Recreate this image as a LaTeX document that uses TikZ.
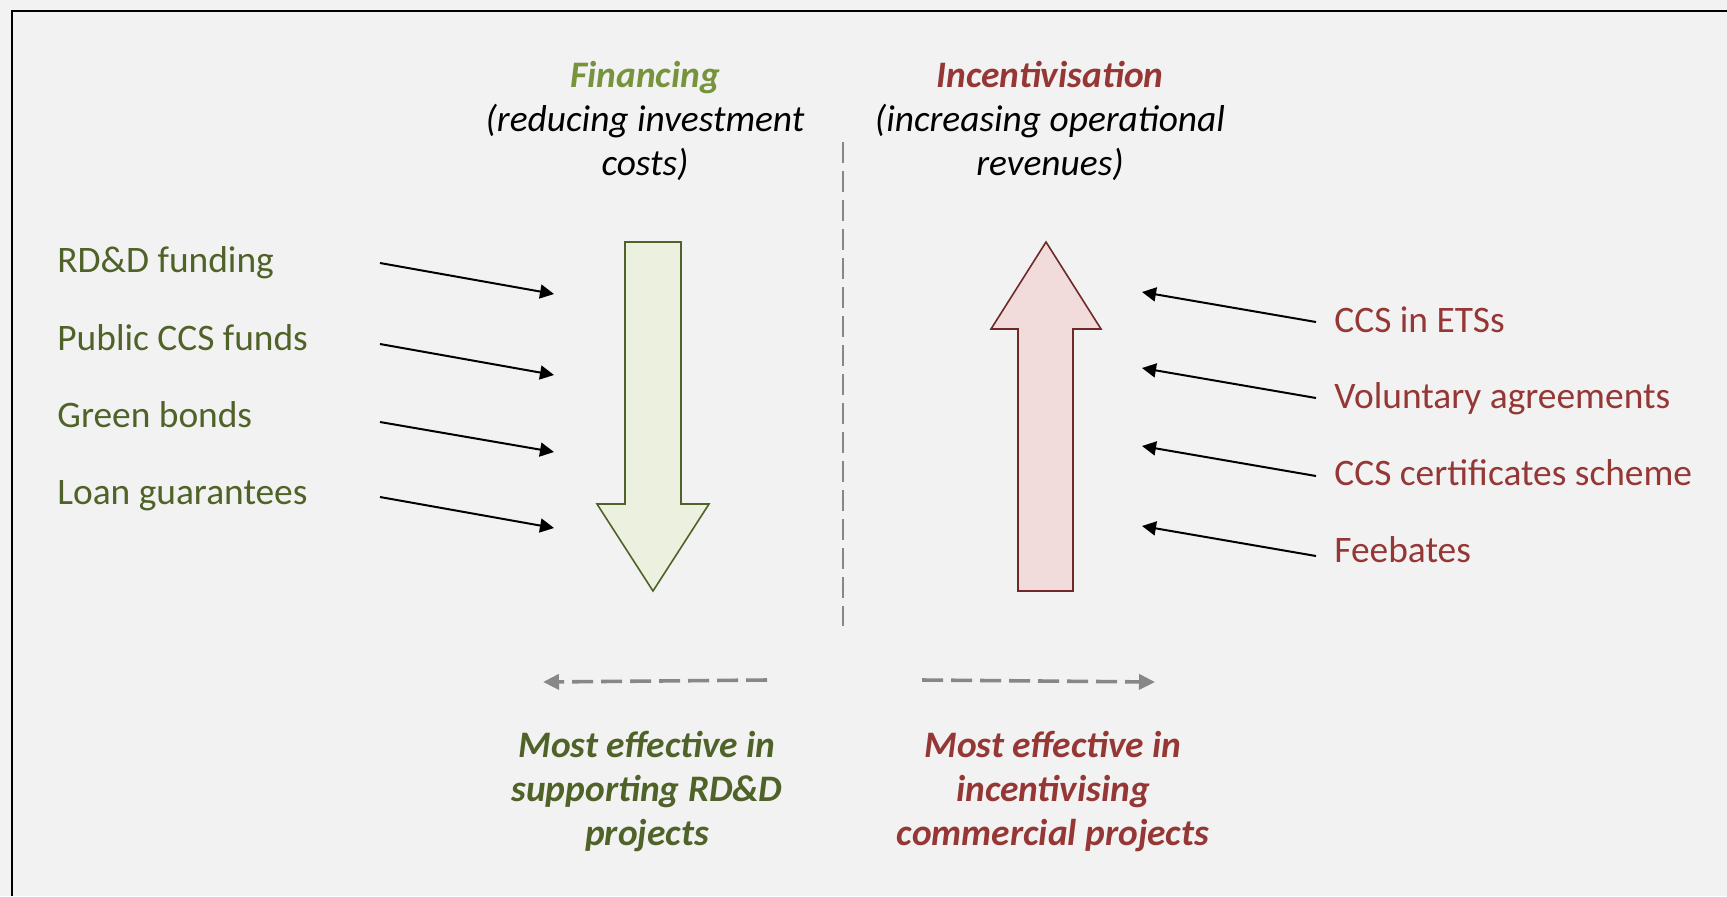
\documentclass[tikz,border=0pt]{standalone}
\usepackage{fontspec}
\setmainfont{Carlito}
\usetikzlibrary{arrows.meta}

\definecolor{bgcol}{HTML}{F2F2F2}
\definecolor{olive}{HTML}{4F6228}
\definecolor{fingreen}{HTML}{77933C}
\definecolor{finfill}{HTML}{EBF1DE}
\definecolor{incred}{HTML}{953735}
\definecolor{incfill}{HTML}{F2DCDB}
\definecolor{incdraw}{HTML}{6E2A28}
\definecolor{sepgray}{HTML}{878787}

\tikzset{
    lbl/.style = {inner sep = 0pt, anchor = base west},
    hdr/.style = {inner sep = 0pt, anchor = base, align = center},
    feed/.style = {line width = 1pt, -{Triangle[length = 7pt, width = 7pt]}},
    split/.style = {draw = sepgray, line width = 1.2pt, dash pattern = on 10.5pt off 4pt},
    reach/.style = {draw = sepgray, line width = 1.8pt, dash pattern = on 10.5pt off 4pt,
        -{Triangle[length = 8pt, width = 7.5pt]}}
}

\begin{document}
\begin{tikzpicture}[x = 0.5pt, y = -0.5pt, font = \fontsize{18.7}{22}\selectfont]
    \useasboundingbox (0,0) rectangle (1727,896);
    \fill[bgcol] (0,0) rectangle (1727,896);
    \draw[line width = 1pt] (11.5,896) -- (11.5,10.5) -- (1727,10.5);

    % headings (base = last line)
    \node[hdr] (FinHead) at (645,175) {\textcolor{fingreen}{\bfseries\itshape Financing}\\
        \itshape (reducing investment\\ \itshape costs)};
    \node[hdr] (IncHead) at (1050,175) {\textcolor{incred}{\bfseries\itshape Incentivisation}\\
        \itshape (increasing operational\\ \itshape revenues)};

    % separator
    \coordinate (SepTop) at (843,142);
    \coordinate (SepBot) at (843,626);
    \draw[split] (SepTop) -- (SepBot);

    % big arrows
    \draw[draw = olive, fill = finfill, line width = 0.8pt]
        (625,242) -- (681,242) -- (681,504) -- (709,504) -- (653,591)
        -- (597,504) -- (625,504) -- cycle;
    \draw[draw = incdraw, fill = incfill, line width = 0.8pt]
        (1018,591) -- (1073,591) -- (1073,329) -- (1101,329) -- (1046,242)
        -- (991,329) -- (1018,329) -- cycle;

    % financing instruments
    \node[lbl, text = olive] (RDD) at (57,272) {RD\&D funding};
    \node[lbl, text = olive] (PubFund) at (57,350) {Public CCS funds};
    \node[lbl, text = olive] (GreenB) at (57,427) {Green bonds};
    \node[lbl, text = olive] (LoanG) at (57,504) {Loan guarantees};

    \coordinate (F1s) at (380,263);  \coordinate (F1e) at (554,294);
    \coordinate (F2s) at (380,344);  \coordinate (F2e) at (554,375);
    \coordinate (F3s) at (380,422);  \coordinate (F3e) at (554,452);
    \coordinate (F4s) at (380,497);  \coordinate (F4e) at (554,528);
    \draw[feed] (F1s) -- (F1e);
    \draw[feed] (F2s) -- (F2e);
    \draw[feed] (F3s) -- (F3e);
    \draw[feed] (F4s) -- (F4e);

    % incentive instruments
    \node[lbl, text = incred] (ETS) at (1334,332) {CCS in ETSs};
    \node[lbl, text = incred] (VolAg) at (1334,408) {Voluntary agreements};
    \node[lbl, text = incred] (Cert) at (1334,485) {CCS certificates scheme};
    \node[lbl, text = incred] (Fee) at (1334,562) {Feebates};

    \coordinate (I1s) at (1316,322);  \coordinate (I1e) at (1142,292);
    \coordinate (I2s) at (1316,398);  \coordinate (I2e) at (1142,368);
    \coordinate (I3s) at (1316,476);  \coordinate (I3e) at (1142,446);
    \coordinate (I4s) at (1316,556);  \coordinate (I4e) at (1142,526);
    \draw[feed] (I1s) -- (I1e);
    \draw[feed] (I2s) -- (I2e);
    \draw[feed] (I3s) -- (I3e);
    \draw[feed] (I4s) -- (I4e);

    % effectiveness
    \coordinate (LeftA) at (767,680);  \coordinate (LeftB) at (543,682);
    \coordinate (RightA) at (922,680); \coordinate (RightB) at (1155,682);
    \draw[reach] (LeftA) -- (LeftB);
    \draw[reach] (RightA) -- (RightB);

    \node[hdr, text = olive, font = \fontsize{18.7}{22}\selectfont\bfseries\itshape]
        (FinEff) at (647,845) {Most effective in\\ supporting RD\&D\\ projects};
    \node[hdr, text = incred, font = \fontsize{18.7}{22}\selectfont\bfseries\itshape]
        (IncEff) at (1053,845) {Most effective in\\ incentivising\\ commercial projects};
\end{tikzpicture}
\end{document}
